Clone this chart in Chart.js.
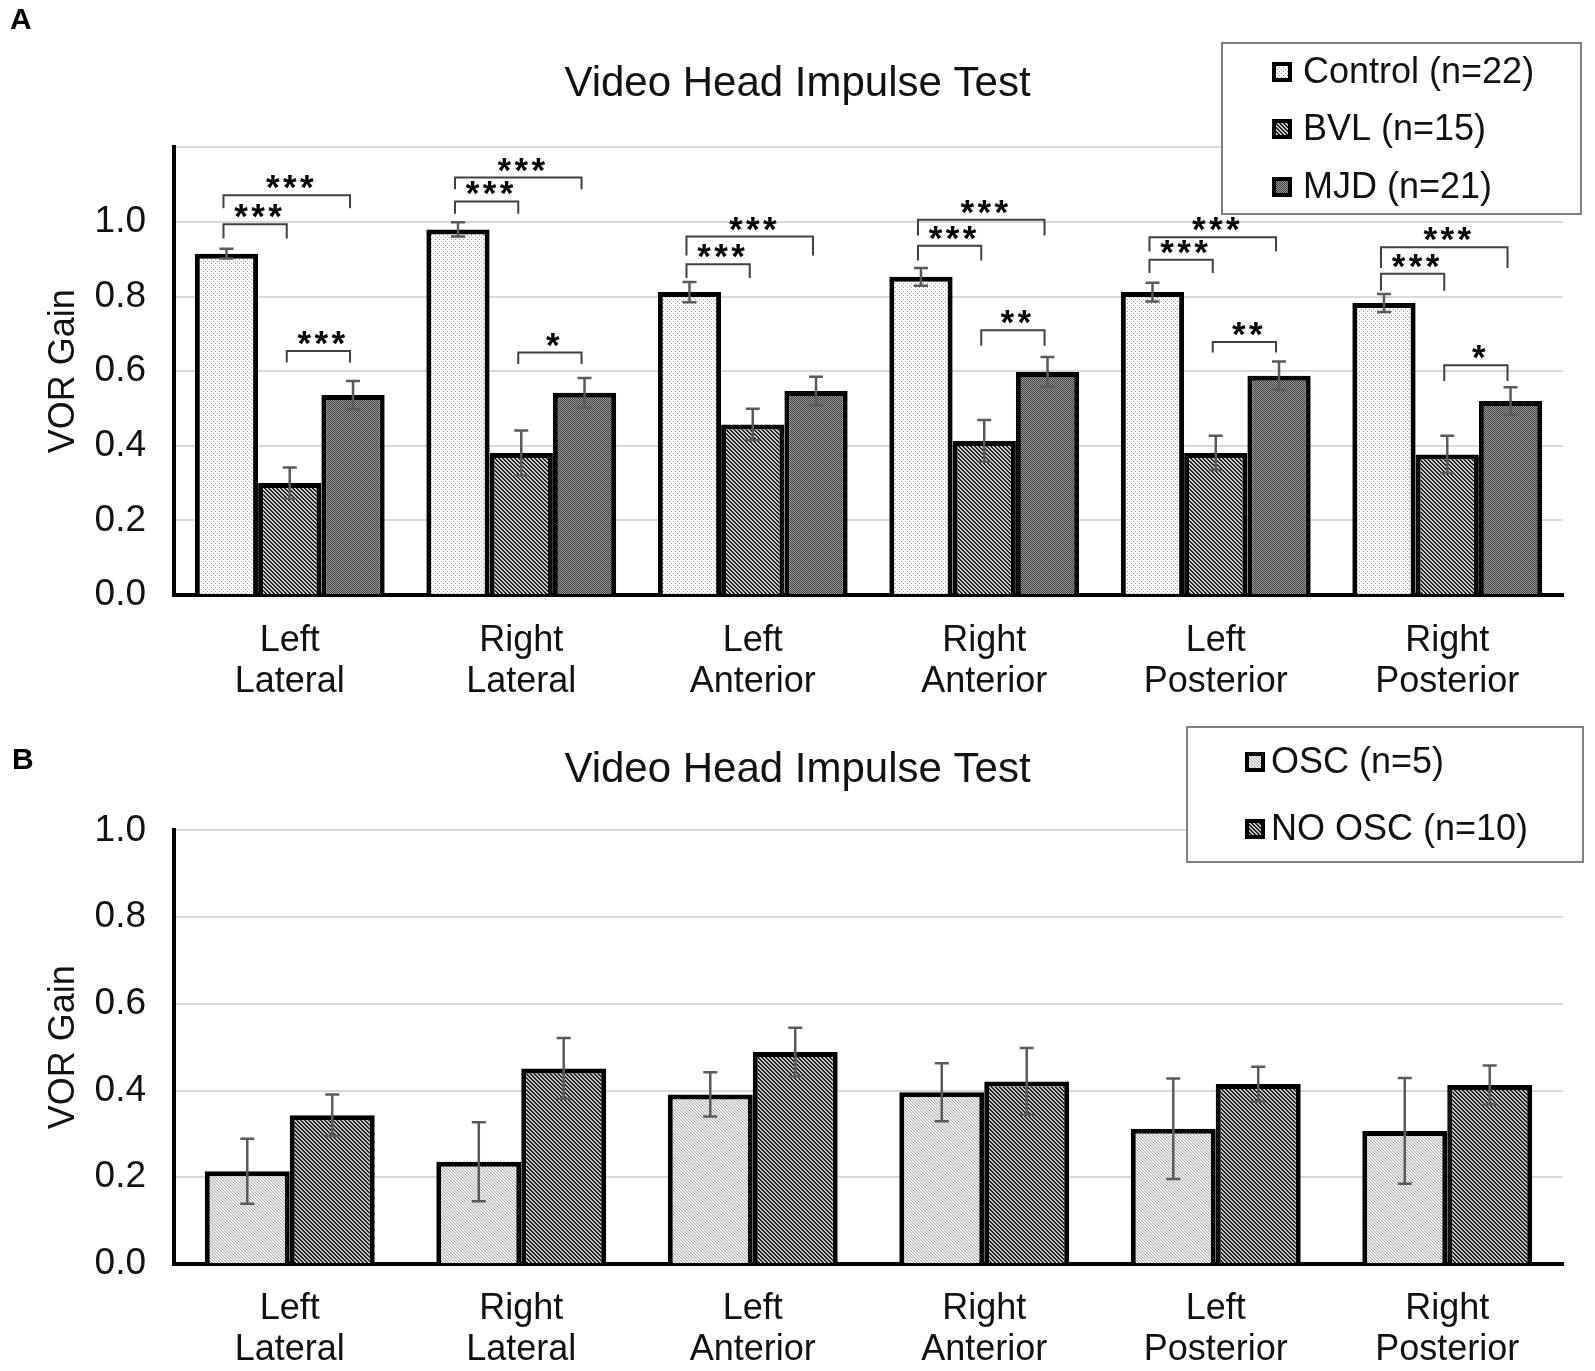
<!DOCTYPE html>
<html>
<head>
<meta charset="utf-8">
<script src="https://cdn.jsdelivr.net/npm/chart.js@4.4.1/dist/chart.umd.min.js"></script>
<style>
  body { margin: 0; background: #fff; }
  canvas { display: block; }
</style>
</head>
<body>
<canvas id="chartA" width="1595" height="700"></canvas>
<canvas id="chartB" width="1595" height="671"></canvas>
<script>
// ---------- data ----------
const categories = [
  ["Left", "Lateral"], ["Right", "Lateral"], ["Left", "Anterior"],
  ["Right", "Anterior"], ["Left", "Posterior"], ["Right", "Posterior"]
];

// panel A
const controlGain = [0.915, 0.980, 0.812, 0.853, 0.812, 0.783];
const controlErr  = [0.013, 0.019, 0.027, 0.024, 0.025, 0.024];
const bvlGain     = [0.300, 0.381, 0.457, 0.413, 0.381, 0.377];
const bvlErr      = [0.042, 0.060, 0.042, 0.056, 0.046, 0.050];
const mjdGain     = [0.536, 0.542, 0.547, 0.598, 0.588, 0.520];
const mjdErr      = [0.038, 0.040, 0.038, 0.040, 0.038, 0.037];

// significance brackets: [category, from series, to series, line value, leg end value, stars]
const bracketsA = [
  [0, 0, 1, 0.994, 0.956, "***"], [0, 0, 2, 1.072, 1.037, "***"], [0, 1, 2, 0.654, 0.623, "***"],
  [1, 0, 1, 1.055, 1.022, "***"], [1, 0, 2, 1.119, 1.088, "***"], [1, 1, 2, 0.650, 0.619, "*"],
  [2, 0, 1, 0.887, 0.850, "***"], [2, 0, 2, 0.961, 0.910, "***"],
  [3, 0, 1, 0.936, 0.897, "***"], [3, 0, 2, 1.006, 0.964, "***"], [3, 1, 2, 0.710, 0.668, "**"],
  [4, 0, 1, 0.899, 0.863, "***"], [4, 0, 2, 0.959, 0.921, "***"], [4, 1, 2, 0.678, 0.650, "**"],
  [5, 0, 1, 0.861, 0.816, "***"], [5, 0, 2, 0.932, 0.877, "***"], [5, 1, 2, 0.616, 0.574, "*"]
];

// panel B
const oscGain   = [0.214, 0.236, 0.391, 0.396, 0.312, 0.307];
const oscErr    = [0.075, 0.091, 0.051, 0.067, 0.116, 0.122];
const noOscGain = [0.343, 0.451, 0.489, 0.421, 0.415, 0.413];
const noOscErr  = [0.048, 0.070, 0.056, 0.077, 0.040, 0.045];

const FONT = "'Liberation Sans', Arial, sans-serif";

// ---------- fill patterns ----------
function makePattern(size, bg, fg, test) {
  const c = document.createElement("canvas");
  c.width = size; c.height = size;
  const g = c.getContext("2d");
  g.fillStyle = bg;
  g.fillRect(0, 0, size, size);
  g.fillStyle = fg;
  for (let x = 0; x < size; x++)
    for (let y = 0; y < size; y++)
      if (test(x, y)) g.fillRect(x, y, 1, 1);
  return g.createPattern(c, "repeat");
}
const dotPat   = makePattern(4, "#fbfbfb", "#9a9a9a", (x, y) => (x === 1 && y === 1) || (x === 3 && y === 3));
const hatchPat = makePattern(4, "#cfcfcf", "#222222", (x, y) => ((x - y + 8) % 4) < 2);
const checkPat = makePattern(2, "#959595", "#444444", (x, y) => (x + y) % 2 === 0);
const lightPat = makePattern(3, "#f0f0f0", "#a8a8a8", (x, y) => ((x - y + 6) % 3) === 0);
const darkPat  = makePattern(4, "#c4c4c4", "#222222", (x, y) => ((x - y + 8) % 4) < 2);

// ---------- plugins ----------
const errorBars = {
  id: "errorBars",
  afterDatasetsDraw(chart, args, opts) {
    const { ctx, scales: { y } } = chart;
    ctx.save();
    ctx.strokeStyle = "#5a5a5a";
    ctx.lineWidth = 2.5;
    chart.data.datasets.forEach((ds, i) => {
      chart.getDatasetMeta(i).data.forEach((bar, j) => {
        const v = ds.data[j], e = opts.errors[i][j];
        const t = y.getPixelForValue(v + e), b = y.getPixelForValue(v - e);
        ctx.beginPath();
        ctx.moveTo(bar.x, t); ctx.lineTo(bar.x, b);
        ctx.moveTo(bar.x - 7, t); ctx.lineTo(bar.x + 7, t);
        ctx.moveTo(bar.x - 7, b); ctx.lineTo(bar.x + 7, b);
        ctx.stroke();
      });
    });
    ctx.restore();
  }
};

const brackets = {
  id: "brackets",
  afterDatasetsDraw(chart, args, opts) {
    if (!opts.items) return;
    const { ctx, scales: { y } } = chart;
    ctx.save();
    ctx.strokeStyle = "#404040";
    ctx.lineWidth = 2;
    ctx.fillStyle = "#000";
    ctx.font = "bold 35px " + FONT;
    ctx.textAlign = "center";
    const m = ctx.measureText("*");
    const mid = (m.actualBoundingBoxDescent - m.actualBoundingBoxAscent) / 2;
    opts.items.forEach(([cat, a, b, lv, ev, stars]) => {
      const xa = chart.getDatasetMeta(a).data[cat].x - 3;
      const xb = chart.getDatasetMeta(b).data[cat].x - 3;
      const ly = y.getPixelForValue(lv), ey = y.getPixelForValue(ev);
      ctx.beginPath();
      ctx.moveTo(xa, ey); ctx.lineTo(xa, ly); ctx.lineTo(xb, ly); ctx.lineTo(xb, ey);
      ctx.stroke();
      const cx = (xa + xb) / 2 + 3;
      const n = stars.length;
      for (let k = 0; k < n; k++) {
        ctx.fillText("*", cx + (k - (n - 1) / 2) * 17, ly - 13 - mid);
      }
    });
    ctx.restore();
  }
};

const boxLegend = {
  id: "boxLegend",
  afterDraw(chart, args, opts) {
    const { ctx } = chart;
    const [bx, by, bw, bh] = opts.box;
    ctx.save();
    ctx.fillStyle = "#fff";
    ctx.fillRect(bx, by, bw, bh);
    ctx.strokeStyle = "#808080";
    ctx.lineWidth = 2;
    ctx.strokeRect(bx, by, bw, bh);
    ctx.font = "36px " + FONT;
    ctx.textBaseline = "middle";
    chart.data.datasets.forEach((ds, i) => {
      const ry = opts.rows[i];
      ctx.fillStyle = "#000";
      ctx.fillRect(opts.swatchX, ry - 10, 20, 20);
      ctx.fillStyle = ds.backgroundColor;
      ctx.fillRect(opts.swatchX + 4, ry - 6, 12, 12);
      ctx.fillStyle = "#111";
      ctx.fillText(ds.label, opts.textX, ry + 1);
    });
    // panel letter
    ctx.font = "bold 30px " + FONT;
    ctx.fillStyle = "#000";
    ctx.fillText(opts.letter[0], opts.letter[1], opts.letter[2]);
    ctx.restore();
  }
};

function makeChart(id, datasets, opt) {
  return new Chart(document.getElementById(id), {
    type: "bar",
    data: { labels: categories, datasets },
    plugins: [errorBars, brackets, boxLegend],
    options: {
      responsive: false,
      animation: false,
      devicePixelRatio: 1,
      layout: { padding: { left: 32, right: 32, top: 0, bottom: 0 } },
      datasets: {
        bar: {
          categoryPercentage: opt.catPct,
          barPercentage: 1.0,
          borderColor: "#000",
          borderWidth: 5,
          borderSkipped: "start"
        }
      },
      plugins: {
        legend: { display: false },
        tooltip: { enabled: false },
        title: {
          display: true,
          text: "Video Head Impulse Test",
          color: "#111",
          font: { family: FONT, size: 42, weight: "normal", lineHeight: 1.2 },
          padding: opt.titlePad
        },
        errorBars: { errors: opt.errors },
        brackets: { items: opt.brackets },
        boxLegend: opt.legend
      },
      scales: {
        x: {
          grid: { display: false, drawTicks: false },
          border: { color: "#000", width: 4 },
          ticks: {
            color: "#111",
            padding: opt.xPad,
            maxRotation: 0,
            autoSkip: false,
            font: { family: FONT, size: 36, lineHeight: 1.14 }
          },
          afterFit(s) { s.height = opt.xHeight; }
        },
        y: {
          min: 0,
          max: opt.yMax,
          grid: { color: "#d9d9d9", lineWidth: 2, drawTicks: false },
          border: { color: "#000", width: 4 },
          ticks: {
            stepSize: 0.2,
            padding: 28,
            color: "#111",
            font: { family: FONT, size: 37 },
            callback: v => (v > 1.01 ? "" : v.toFixed(1))
          },
          title: {
            display: true,
            text: "VOR Gain",
            color: "#111",
            font: { family: FONT, size: 36, lineHeight: 1.2 },
            padding: { top: 10, bottom: 0 }
          },
          afterFit(s) { s.width = 142; }
        }
      }
    }
  });
}

// ---------- panel A ----------
makeChart("chartA", [
  { label: "Control (n=22)", data: controlGain, backgroundColor: dotPat },
  { label: "BVL (n=15)", data: bvlGain, backgroundColor: hatchPat },
  { label: "MJD (n=21)", data: mjdGain, backgroundColor: checkPat }
], {
  catPct: 0.82,
  yMax: 1.2,
  titlePad: { top: 59, bottom: 38 },
  xPad: 26,
  xHeight: 105,
  errors: [controlErr, bvlErr, mjdErr],
  brackets: bracketsA,
  legend: { box: [1222, 43, 359, 171], rows: [72, 129, 187], swatchX: 1272, textX: 1303, letter: ["A", 10, 21] }
});

// ---------- panel B ----------
makeChart("chartB", [
  { label: "OSC (n=5)", data: oscGain, backgroundColor: lightPat },
  { label: "NO OSC (n=10)", data: noOscGain, backgroundColor: darkPat }
], {
  catPct: 0.734,
  yMax: 1.0,
  titlePad: { top: 45, bottom: 35 },
  xPad: 25,
  xHeight: 107,
  errors: [oscErr, noOscErr],
  brackets: null,
  legend: { box: [1187, 27, 396, 135], rows: [62, 129], swatchX: 1245, textX: 1271, letter: ["B", 12, 61] }
});
</script>
</body>
</html>
